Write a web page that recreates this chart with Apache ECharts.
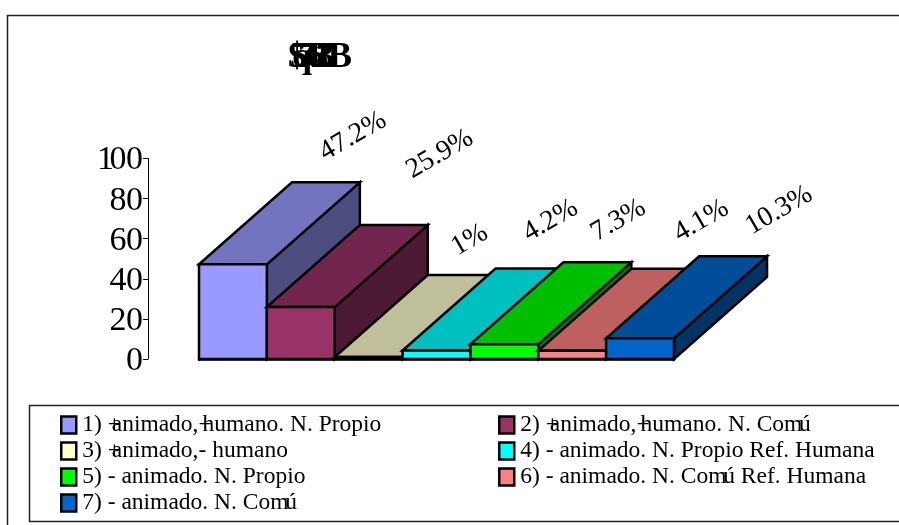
<!DOCTYPE html>
<html><head><meta charset="utf-8">
<style>html,body{margin:0;background:#fff}#c{width:899px;height:525px}</style>
<script src="https://cdn.jsdelivr.net/npm/echarts@6/dist/echarts.min.js"></script>
</head><body><div id="c"></div>
<script>
var categories = ['1) +animado,+humano. N. Propio','2) +animado,+humano. N. Comú','3) +animado,- humano','4) - animado. N. Propio Ref. Humana','5) - animado. N. Propio','6) - animado. N. Comú Ref. Humana','7) - animado. N. Comú'];
var values = [47.2,25.9,1,4.2,7.3,4.1,10.3];
var valueLabels = ['47.2%','25.9%','1%','4.2%','7.3%','4.1%','10.3%'];
var frontColors = ['#9999FF','#993366','#FFFFCC','#00FFFF','#00FF00','#FF8080','#0066CC'];
var topColors = ['#7373BF','#73264D','#BFBF99','#00BFBF','#00BF00','#BF6060','#004D99'];
var sideColors = ['#4D4D80','#4D1A33','#808066','#008080','#008000','#804040','#003366'];
var labelNudges = [[27,-46],[46,-71],[8,-35],[21,-48],[21,-42],[36,-48],[46,-46]];
var titleGlyphs = ['$','5','q','7','4','6','8','1','3','0','B'];
var titleGlyphLeft = [288,290,292,298,302,306,310,314,316,320,328];
var depth = [93,-82];
var serif = '"Liberation Serif","Times New Roman",serif';

var chart = echarts.init(document.getElementById('c'), null, {renderer:'canvas'});
function renderBar(params, api){
  var i = api.value(0), v = api.value(1);
  var p = api.coord([i,v]), b = api.coord([i,0]);
  var w = api.size([1,0])[0];
  var x0 = p[0]-w/2, x1 = p[0]+w/2, yT = p[1], yB = b[1], dx = depth[0], dy = depth[1];
  var ln = {stroke:'#000',lineWidth:2.5,lineJoin:'miter',miterLimit:10};
  function poly(pts,c){return {type:'polygon',shape:{points:pts},style:Object.assign({fill:c},ln)};}
  var n = labelNudges[i];
  return {type:'group',children:[
    poly([[x1,yB],[x1+dx,yB+dy],[x1+dx,yT+dy],[x1,yT]],sideColors[i]),
    poly([[x0,yT],[x1,yT],[x1+dx,yT+dy],[x0+dx,yT+dy]],topColors[i]),
    poly([[x0,yB],[x1,yB],[x1,yT],[x0,yT]],frontColors[i]),
    {type:'text',x:p[0]+dx+n[0],y:yT+dy+n[1],rotation:30*Math.PI/180,
     style:{text:valueLabels[i],font:'28px '+serif,fill:'#000',align:'center',verticalAlign:'middle'}}
  ]};
}
var series = categories.map(function(name,i){
  return {type:'custom',name:name,coordinateSystem:'cartesian2d',clip:false,z:2+i,
    itemStyle:{color:frontColors[i],borderColor:'#000',borderWidth:2},
    renderItem:renderBar,encode:{x:0,y:1},data:[[i,values[i]]]};
});
var legendFont = {fontFamily:serif,fontSize:23.5,color:'#000',lineHeight:26};
function legendText(name){
  return name.replace(/\+/g,'{p|+}').replace('Comú','Co{m|m}ú');
}
function legendPart(start,left){
  return {orient:'vertical',left:left,top:412,padding:0,itemWidth:15,itemHeight:17,itemGap:0,icon:'rect',
    data:categories.filter(function(c,i){return i%2===start;}),selectedMode:false,formatter:legendText,
    textStyle:Object.assign({padding:[0,0,0,1],rich:{
      p:Object.assign({width:4},legendFont),m:Object.assign({width:15},legendFont)}},legendFont),
    itemStyle:{borderColor:'#000',borderWidth:2.5}};
}
function tightDigits(v){
  var s = String(v), out = '';
  for (var k=0;k<s.length;k++) out += '{'+(k===s.length-1?'e':'d')+'|'+s[k]+'}';
  return out;
}
var digit = {fontFamily:serif,fontSize:34,color:'#000'};
chart.setOption({
  animation:false,backgroundColor:'#fff',
  title:titleGlyphs.map(function(g,i){return {text:g,left:titleGlyphLeft[i],top:40,padding:0,
    textStyle:{fontFamily:serif,fontSize:36,fontWeight:'bold',color:'#000'}};}),
  grid:{left:199,width:475,top:158.5,height:200.5,containLabel:false},
  xAxis:{type:'category',data:categories,axisLabel:{show:false},
    axisLine:{lineStyle:{color:'#000',width:2.5}},axisTick:{show:true,length:2,lineStyle:{color:'#000',width:1.5}}},
  yAxis:{type:'value',min:0,max:100,interval:20,offset:51,splitLine:{show:false},
    axisLine:{show:true,lineStyle:{color:'#000',width:1}},
    axisTick:{show:true,length:5,lineStyle:{color:'#000',width:1}},
    axisLabel:{color:'#000',margin:5,padding:[4,0,0,0],formatter:tightDigits,
      rich:{d:Object.assign({width:12.5},digit),e:Object.assign({width:16.5},digit)}}},
  legend:[legendPart(0,60),legendPart(1,498)],
  graphic:[
    {type:'rect',silent:true,z:-1,shape:{x:7.5,y:15.5,width:900,height:600},style:{fill:'none',stroke:'#222',lineWidth:1.5}},
    {type:'rect',silent:true,z:-1,shape:{x:29.5,y:405.5,width:900,height:116},style:{fill:'none',stroke:'#222',lineWidth:1.5}}
  ],
  series:series
});
</script></body></html>
